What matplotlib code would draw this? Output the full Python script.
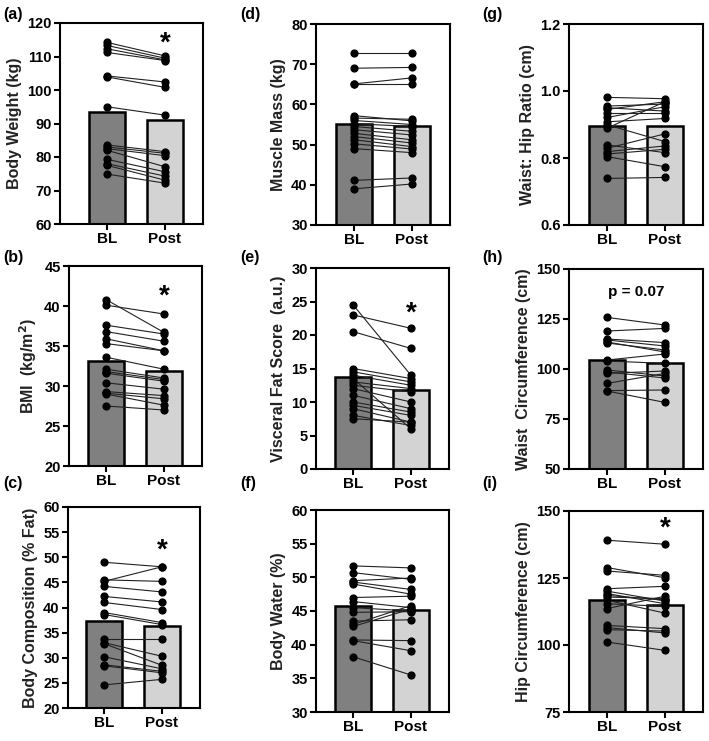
import numpy as np
import matplotlib
matplotlib.use("Agg")
import matplotlib.pyplot as plt
import matplotlib.transforms as mtransforms

plt.rcParams['font.family'] = ['Liberation Sans', 'DejaVu Sans']
plt.rcParams['font.weight'] = 'bold'

groups = ['BL', 'Post']

# (a) body weight
weight_bl = [114.2, 113.3, 112.3, 111.2, 104.2, 103.9, 95.0, 83.6, 83.0, 82.5, 82.0, 79.3, 78.0, 77.5, 74.9]
weight_post = [110.2, 109.5, 109.0, 108.8, 102.4, 100.8, 92.5, 81.6, 81.1, 80.4, 77.1, 75.6, 74.3, 73.1, 72.2]
weight_mean = [93.3, 91.0]

# (b) BMI
bmi_bl = [40.8, 40.1, 37.6, 36.8, 35.9, 35.3, 33.6, 32.1, 31.6, 30.4, 29.3, 29.1, 27.5, 31.8, 29.0]
bmi_post = [36.7, 39.0, 36.5, 35.6, 34.4, 34.4, 32.1, 31.0, 30.6, 29.6, 28.8, 28.4, 27.0, 30.8, 27.6]
bmi_mean = [33.1, 31.9]

# (c) body composition
fat_bl = [49.0, 45.5, 45.2, 44.2, 42.2, 41.0, 39.0, 38.6, 33.7, 33.0, 32.8, 30.2, 28.6, 28.4, 24.6]
fat_post = [48.1, 45.2, 48.1, 43.1, 41.1, 39.6, 37.0, 36.6, 33.7, 30.3, 28.5, 27.8, 27.3, 27.0, 25.7]
fat_mean = [37.4, 36.4]

# (d) muscle mass
muscle_bl = [72.7, 69.0, 65.1, 65.0, 57.2, 56.6, 56.0, 55.2, 54.5, 53.7, 52.8, 52.0, 51.2, 50.2, 49.0, 41.1, 39.0]
muscle_post = [72.7, 69.2, 66.6, 65.0, 55.9, 56.3, 55.0, 54.5, 53.3, 52.4, 51.2, 50.4, 49.5, 48.9, 48.0, 41.7, 40.2]
muscle_mean = [55.1, 54.6]

# (e) visceral fat
visc_bl = [24.5, 23.0, 20.5, 15.0, 14.5, 14.0, 13.5, 13.0, 12.5, 12.0, 11.0, 10.0, 9.5, 9.0, 8.0, 7.5]
visc_post = [14.0, 21.0, 18.0, 13.5, 13.0, 12.5, 6.0, 12.0, 11.5, 10.0, 9.0, 8.5, 8.0, 7.0, 6.5, 7.0]
visc_mean = [13.8, 11.8]

# (f) body water
water_bl = [51.7, 50.7, 49.5, 49.3, 49.0, 47.0, 46.4, 45.5, 44.8, 43.5, 43.0, 42.7, 40.7, 40.6, 38.2]
water_post = [51.4, 49.7, 49.9, 48.2, 47.5, 47.2, 45.5, 45.0, 44.9, 43.7, 45.8, 45.3, 40.6, 39.1, 35.5]
water_mean = [45.8, 45.2]

# (g) waist:hip ratio
whr_bl = [0.981, 0.955, 0.945, 0.933, 0.921, 0.908, 0.899, 0.889, 0.839, 0.829, 0.819, 0.812, 0.804, 0.739, 0.950]
whr_post = [0.977, 0.961, 0.968, 0.933, 0.953, 0.918, 0.849, 0.968, 0.816, 0.872, 0.836, 0.826, 0.774, 0.742, 0.940]
whr_mean = [0.895, 0.895]

# (h) waist circumference
waist_bl = [125.8, 119.0, 115.0, 114.5, 113.5, 113.0, 104.5, 104.0, 99.5, 98.5, 97.8, 92.8, 89.2, 89.0]
waist_post = [122.0, 120.3, 113.2, 111.5, 108.5, 109.5, 107.5, 102.8, 96.5, 95.5, 99.0, 97.8, 89.5, 83.3]
waist_mean = [104.5, 103.0]

# (i) hip circumference
hip_bl = [139.1, 128.9, 127.6, 121.0, 120.1, 119.2, 117.9, 116.7, 115.4, 113.6, 107.3, 106.5, 105.7, 101.1, 118.5]
hip_post = [137.6, 125.1, 126.0, 121.9, 116.4, 115.4, 117.3, 111.9, 114.4, 118.2, 106.1, 104.5, 105.2, 98.0, 116.8]
hip_mean = [116.9, 114.8]

W, H = 709, 741
fig = plt.figure(figsize=(W / 100, H / 100), dpi=100)

# panel: letter, ylabel, bl, post, means, yticks, annotation, ann_y, box(left, top, right, bottom px), letter pos
panels = [
    ('(a)', 'Body Weight (kg)', weight_bl, weight_post, weight_mean, np.arange(60, 121, 10), '*', 116, (60, 23, 203, 224), (3, 15)),
    ('(b)', 'BMI  (kg/m$\\mathbf{^2}$)', bmi_bl, bmi_post, bmi_mean, np.arange(20, 46, 5), '*', 42, (69, 266, 202, 466), (3, 257)),
    ('(c)', 'Body Composition (% Fat)', fat_bl, fat_post, fat_mean, np.arange(20, 61, 5), '*', 52.8, (68, 507, 200, 708), (3, 483)),
    ('(d)', 'Muscle Mass (kg)', muscle_bl, muscle_post, muscle_mean, np.arange(30, 81, 10), None, None, (316, 24, 450, 225), (240, 15)),
    ('(e)', 'Visceral Fat Score  (a.u.)', visc_bl, visc_post, visc_mean, np.arange(0, 31, 5), '*', 24.3, (316, 268, 449, 469), (240, 257)),
    ('(f)', 'Body Water (%)', water_bl, water_post, water_mean, np.arange(30, 61, 5), None, None, (316, 510, 449, 712), (240, 483)),
    ('(g)', 'Waist: Hip Ratio (cm)', whr_bl, whr_post, whr_mean, [0.6, 0.8, 1.0, 1.2], None, None, (569, 24, 703, 225), (482, 15)),
    ('(h)', 'Waist  Circumference (cm)', waist_bl, waist_post, waist_mean, np.arange(50, 151, 25), 'p = 0.07', 138.7, (569, 269, 703, 469), (482, 257)),
    ('(i)', 'Hip Circumference (cm)', hip_bl, hip_post, hip_mean, np.arange(75, 151, 25), '*', 145.9, (569, 511, 703, 712), (482, 483)),
]

for letter, ylabel, bl, post, means, yticks, ann, ann_y, box, lpos in panels:
    l, t, r, b = box
    ax = fig.add_axes([l / W, 1 - b / H, (r - l) / W, (b - t) / H])
    ymin, ymax = yticks[0], yticks[-1]
    ax.bar([0, 1], [m - ymin for m in means], bottom=ymin, width=0.63,
           color=['#808080', '#d3d3d3'], edgecolor='black', linewidth=1.8, zorder=1)
    for v0, v1 in zip(bl, post):
        ax.plot([0, 1], [v0, v1], color='#222222', linewidth=0.8, zorder=2)
    ax.scatter(np.zeros(len(bl)), bl, s=24, color='black', zorder=3)
    ax.scatter(np.ones(len(post)), post, s=24, color='black', zorder=3)
    ax.set_ylim(ymin, ymax)
    left_pad = 0.66 + ((r - l) - 134) / 58.0
    ax.set_xlim(-left_pad, 1.66)
    ax.set_xticks([0, 1])
    ax.set_xticklabels(groups, fontsize=11, fontweight='bold')
    ax.set_yticks(yticks)
    if letter == '(g)':
        ax.set_yticklabels(['%.1f' % v for v in yticks])
    for lab in ax.get_yticklabels():
        lab.set_fontsize(10.5)
        lab.set_fontweight('bold')
    ax.set_ylabel(ylabel, fontsize=11.5, fontweight='bold', color='#222222')
    for sp in ax.spines.values():
        sp.set_linewidth(1.5)
    ax.tick_params(width=1.5, length=4, pad=2)
    if ann == '*':
        shift = mtransforms.offset_copy(ax.transData, fig=fig, x=0, y=-7, units='dots')
        ax.text(1, ann_y, '*', ha='center', va='center', fontsize=20, fontweight='bold',
                transform=shift, clip_on=False)
    elif ann is not None:
        ax.text(0.5, ann_y, ann, ha='center', va='center', fontsize=11, fontweight='bold')
    fig.text(lpos[0] / W, 1 - lpos[1] / H, letter, ha='left', va='center', fontsize=11.5, fontweight='bold')

fig.savefig('out.png', dpi=100)
